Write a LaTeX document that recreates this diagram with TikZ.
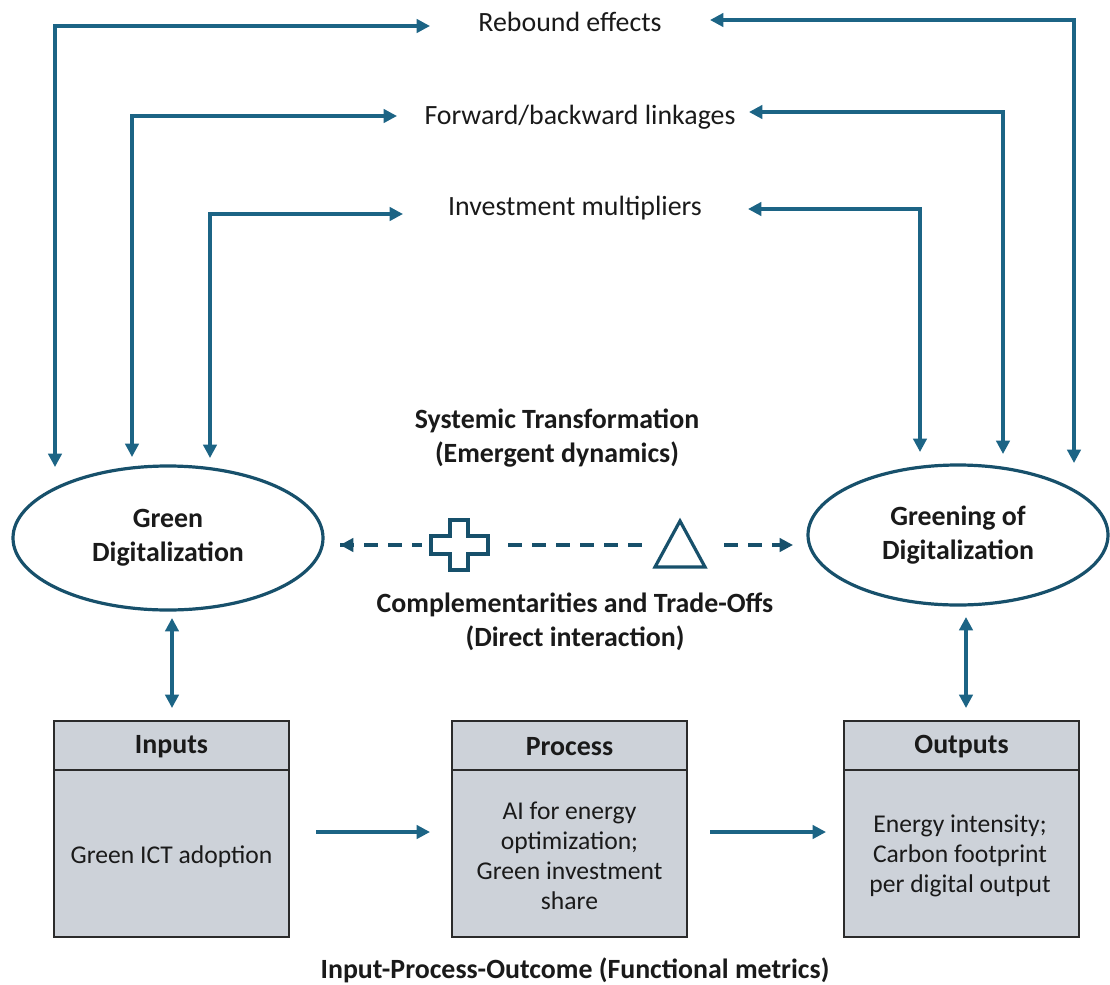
\documentclass[tikz,border=0pt]{standalone}
\usepackage{fontspec}
\setmainfont{Carlito}
\usetikzlibrary{shapes.geometric,arrows.meta}
\definecolor{arrc}{HTML}{1C6485}
\definecolor{ellc}{HTML}{17506B}
\definecolor{boxf}{HTML}{CDD2D9}
\definecolor{boxd}{HTML}{2B2B2B}
\definecolor{txt}{HTML}{1A1A1A}
\tikzset{
  tip/.tip={Triangle[length=10pt,width=10pt]},
  conn/.style={draw=arrc, line width=2.4pt},
  dconn/.style={draw=ellc, line width=2.4pt, dash pattern=on 10.5pt off 7.5pt},
  lbl/.style={text=txt, font=\fontsize{20.9}{25}\selectfont, inner sep=0pt, align=center},
  body/.style={text=txt, font=\fontsize{19.2}{22.5}\selectfont, inner sep=0pt, align=center},
  blbl/.style={lbl, font=\fontsize{20.9}{25.5}\selectfont\bfseries},
  ell/.style={ellipse, draw=ellc, line width=2.4pt, fill=white, inner sep=0pt, align=center,
              font=\fontsize{20.9}{25.5}\selectfont\bfseries, text=txt},
  pbox/.style={draw=boxd, fill=boxf, line width=1.6pt, minimum width=176.25pt, minimum height=162pt, inner sep=0pt},
  sym/.style={draw=ellc, line width=2.4pt, fill=white}
}
\begin{document}
\begin{tikzpicture}[x=0.75pt,y=-0.75pt]
\useasboundingbox (0,0) rectangle (1110,985);

% top labels
\node[lbl] (reb) at (570,22) {Rebound effects};
\node[lbl] (fwd) at (580,117) {Forward/backward linkages};
\node[lbl] (inv) at (575,208) {Investment multipliers};

% ellipses
\node[ell, minimum width=232.5pt, minimum height=108pt] (gd) at (168,538) {Green\\Digitalization};
\node[ell, minimum width=225pt, minimum height=105pt] (god) at (958,535) {Greening of\\Digitalization};

% anchor coordinates
\coordinate (r1a) at (55,467);  \coordinate (r1b) at (430,26);
\coordinate (r2a) at (1074,463); \coordinate (r2b) at (710,20);
\coordinate (f1a) at (132,457); \coordinate (f1b) at (397,116);
\coordinate (f2a) at (1003,454); \coordinate (f2b) at (749,112);
\coordinate (i1a) at (210,458); \coordinate (i1b) at (403,214);
\coordinate (i2a) at (920,452); \coordinate (i2b) at (748,209);

\draw[conn,tip-tip] (r1a) |- (r1b);
\draw[conn,tip-tip] (r2a) |- (r2b);
\draw[conn,tip-tip] (f1a) |- (f1b);
\draw[conn,tip-tip] (f2a) |- (f2b);
\draw[conn,tip-tip] (i1a) |- (i1b);
\draw[conn,tip-tip] (i2a) |- (i2b);

% middle labels
\node[blbl] (sys) at (557,438) {Systemic Transformation\\(Emergent dynamics)};
\node[blbl] (comp) at (575,622) {Complementarities and Trade-Offs\\(Direct interaction)};

% dashed interaction line with symbols
\coordinate (dl) at (340,545);
\coordinate (dr) at (793,545);
\draw[dconn] (dl) -- (dr);
\draw[ellc, line width=2.4pt, -{Triangle[length=10pt,width=10pt]}] (352,545) -- (dl);
\draw[ellc, line width=2.4pt, -{Triangle[length=10pt,width=10pt]}] (781,545) -- (dr);
\fill[white] (422,515) rectangle (508,575);
\fill[white] (643,512) rectangle (720,575);
\draw[sym] (450,520) -- (468,520) -- (468,536) -- (488,536) -- (488,554) -- (468,554)
  -- (468,570) -- (450,570) -- (450,554) -- (431,554) -- (431,536) -- (450,536) -- cycle;
\draw[sym, line join=miter] (655,567) -- (705,567) -- (680,521) -- cycle;

% vertical double arrows
\coordinate (v1a) at (172,618); \coordinate (v1b) at (172,708);
\coordinate (v2a) at (966,617); \coordinate (v2b) at (966,708);
\draw[conn,tip-tip] (v1a) -- (v1b);
\draw[conn,tip-tip] (v2a) -- (v2b);

% boxes
\node[pbox] (in) at (171.5,829) {};
\node[pbox] (pr) at (569.5,829) {};
\node[pbox] (out) at (961.5,829) {};
\foreach \b in {in,pr,out}{
  \draw[boxd, line width=1.6pt] ([yshift=-37.5pt]\b.north west) -- ([yshift=-37.5pt]\b.north east);
}
\node[blbl] (inh) at (171.5,747) {Inputs};
\node[blbl] (prh) at (569.5,747) {Process};
\node[blbl] (outh) at (961.5,747) {Outputs};
\node[body] (inb) at (171.5,857) {Green ICT adoption};
\node[body] (prb) at (569.5,856) {AI for energy\\optimization;\\Green investment\\share};
\node[body] (outb) at (960,856) {Energy intensity;\\Carbon footprint\\per digital output};

\coordinate (h1a) at (316,832); \coordinate (h1b) at (430,832);
\coordinate (h2a) at (710,832); \coordinate (h2b) at (826,832);
\draw[conn,-tip] (h1a) -- (h1b);
\draw[conn,-tip] (h2a) -- (h2b);

\node[blbl] (cap) at (575,970) {Input-Process-Outcome (Functional metrics)};
\end{tikzpicture}
\end{document}
